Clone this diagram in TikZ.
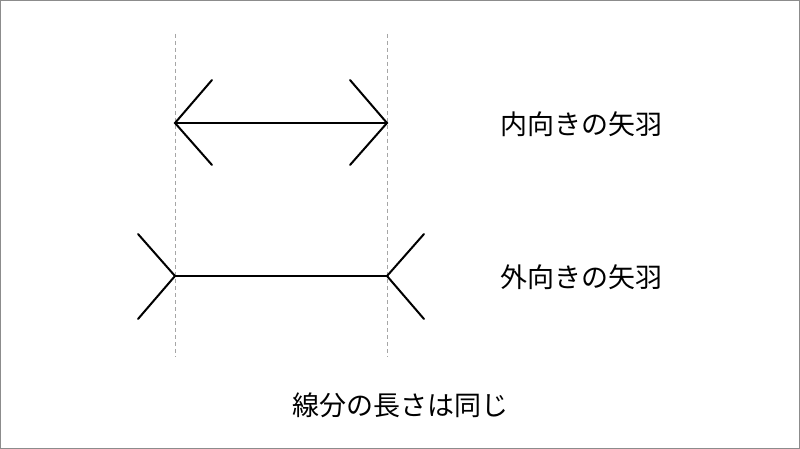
\documentclass[tikz,border=0pt]{standalone}
\usepackage{fontspec}
\newfontfamily\jp{Noto Sans CJK JP}
\begin{document}
\begin{tikzpicture}[x=1pt,y=-1pt,
  fin/.style={line width=2pt, black, line cap=round},
  guide/.style={line width=1pt, color=black!35, dash pattern=on 4pt off 3pt},
  lbl/.style={font=\jp\fontsize{27}{31}\selectfont, inner sep=0pt, anchor=center}]
\fill[white] (0,0) rectangle (800,449);
\draw[line width=1.2pt, color=black!45] (0.6,0.6) rectangle (799.4,448.4);
\useasboundingbox (0,0) rectangle (800,449);
% guides
\coordinate (gl1) at (175,34); \coordinate (gl2) at (175,357);
\coordinate (gr1) at (387,34); \coordinate (gr2) at (387,357);
\draw[guide] (gl1) -- (gl2);
\draw[guide] (gr1) -- (gr2);
% inward arrow
\coordinate (a1) at (175,123); \coordinate (a2) at (387,123);
\coordinate (a1u) at (212,80); \coordinate (a1d) at (212,165);
\coordinate (a2u) at (350,80); \coordinate (a2d) at (350,165);
\draw[fin] (a1) -- (a2);
\draw[fin] (a1u) -- (a1) -- (a1d);
\draw[fin] (a2u) -- (a2) -- (a2d);
% outward arrow
\coordinate (b1) at (175,276); \coordinate (b2) at (387,276);
\coordinate (b1u) at (138,234); \coordinate (b1d) at (138,319);
\coordinate (b2u) at (424,234); \coordinate (b2d) at (424,319);
\draw[fin] (b1) -- (b2);
\draw[fin] (b1u) -- (b1) -- (b1d);
\draw[fin] (b2u) -- (b2) -- (b2d);
% labels
\node[lbl] (t1) at (581,124) {内向きの矢羽};
\node[lbl] (t2) at (581,277) {外向きの矢羽};
\node[lbl] (t3) at (400,405) {線分の長さは同じ};
\end{tikzpicture}
\end{document}
